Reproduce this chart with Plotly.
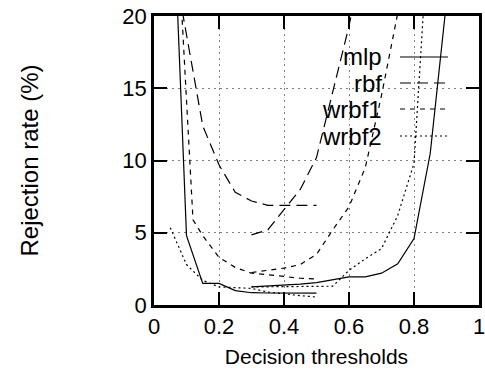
import plotly.graph_objects as go

# ---- data ----
mlp_x1 = [0.05, 0.1, 0.15, 0.2, 0.25, 0.3, 0.35, 0.4, 0.45, 0.5]
mlp_y1 = [33, 4.8, 1.5, 1.5, 1.0, 0.85, 0.83, 0.82, 0.82, 0.82]
mlp_x2 = [0.3, 0.35, 0.4, 0.45, 0.5, 0.55, 0.6, 0.65, 0.7, 0.75, 0.8, 0.85, 0.9]
mlp_y2 = [1.25, 1.3, 1.4, 1.45, 1.55, 1.75, 1.95, 1.95, 2.2, 2.85, 4.6, 10.5, 21]

rbf_x1 = [0.05, 0.1, 0.15, 0.2, 0.25, 0.3, 0.35, 0.4, 0.45, 0.5]
rbf_y1 = [25, 18.6, 12.4, 9.7, 7.8, 7.2, 6.9, 6.9, 6.9, 6.9]
rbf_x2 = [0.3, 0.35, 0.4, 0.45, 0.5, 0.55, 0.6, 0.65]
rbf_y2 = [4.85, 5.2, 6.6, 8.0, 10.2, 14.7, 19.3, 25]

wrbf1_x1 = [0.08, 0.12, 0.15, 0.2, 0.25, 0.3, 0.35, 0.4, 0.45, 0.5]
wrbf1_y1 = [22.5, 5.9, 4.8, 3.3, 2.6, 2.2, 2.1, 1.95, 1.85, 1.8]
wrbf1_x2 = [0.3, 0.35, 0.4, 0.45, 0.5, 0.55, 0.6, 0.65, 0.7, 0.75]
wrbf1_y2 = [2.25, 2.4, 2.55, 2.8, 3.5, 5.2, 6.8, 9.5, 14.5, 20.2]

wrbf2_x1 = [0.05, 0.1, 0.15, 0.2, 0.25, 0.3, 0.35, 0.4, 0.45, 0.5]
wrbf2_y1 = [5.35, 2.8, 1.7, 1.25, 1.2, 1.15, 0.9, 0.75, 0.65, 0.55]
wrbf2_x2 = [0.3, 0.35, 0.4, 0.45, 0.5, 0.55, 0.6, 0.65, 0.7, 0.75, 0.8, 0.85]
wrbf2_y2 = [1.25, 1.25, 1.25, 1.25, 1.25, 1.3, 2.4, 3.2, 3.9, 6.2, 9.8, 28]

names = ["mlp", "rbf", "wrbf1", "wrbf2"]
dashes = ["solid", "11px,6px", "5px,5px", "2px,3px"]
series = [
    (mlp_x1, mlp_y1, mlp_x2, mlp_y2),
    (rbf_x1, rbf_y1, rbf_x2, rbf_y2),
    (wrbf1_x1, wrbf1_y1, wrbf1_x2, wrbf1_y2),
    (wrbf2_x1, wrbf2_y1, wrbf2_x2, wrbf2_y2),
]

x_ticks = [0, 0.2, 0.4, 0.6, 0.8, 1]
x_ticktext = ["0", "0.2", "0.4", "0.6", "0.8", "1"]
y_ticks = [0, 5, 10, 15, 20]

FONT = "Liberation Sans, Arial, sans-serif"

fig = go.Figure()
for name, dash, (x1, y1, x2, y2) in zip(names, dashes, series):
    fig.add_trace(go.Scatter(
        x=x1 + [None] + x2, y=y1 + [None] + y2,
        mode="lines", name=name, showlegend=False,
        line=dict(color="black", width=1.2, dash=dash),
        connectgaps=False,
    ))

# gnuplot-style key: label on the left, line sample on the right
L, R, T, B = 154, 479, 16, 305
W, H = 485, 373
key_y_px = [57, 83, 109, 136]
for name, dash, ypx in zip(names, dashes, key_y_px):
    yp = (B - ypx) / (B - T)
    fig.add_annotation(
        xref="paper", yref="paper", x=(384 - L) / (R - L), y=yp,
        xanchor="right", yanchor="middle", showarrow=False,
        text=name, font=dict(family=FONT, size=24, color="black"),
    )
    fig.add_shape(
        type="line", xref="paper", yref="paper",
        x0=(400 - L) / (R - L), x1=(448 - L) / (R - L), y0=yp, y1=yp,
        line=dict(color="black", width=1.2, dash=dash),
    )

axis_common = dict(
    showline=True, linecolor="black", linewidth=2.5, mirror="allticks",
    ticks="inside", ticklen=13, tickwidth=2, tickcolor="black",
    showgrid=True, gridcolor="#808080", gridwidth=1, griddash="2px,4px",
    zeroline=False, automargin=False, ticklabeloverflow="allow",
    tickfont=dict(family=FONT, size=22, color="black"),
)

fig.update_xaxes(
    range=[0, 1], tickvals=x_ticks, ticktext=x_ticktext,
    title=dict(text="Decision thresholds", font=dict(family=FONT, size=21, color="black"), standoff=12),
    **axis_common,
)
fig.update_yaxes(
    range=[0, 20], tickvals=y_ticks,
    title=dict(text="Rejection rate (%)", font=dict(family=FONT, size=24, color="black"), standoff=77),
    **axis_common,
)

fig.update_layout(
    width=W, height=H,
    margin=dict(l=L, r=W - R, t=T, b=H - B, pad=0),
    plot_bgcolor="white", paper_bgcolor="white",
    showlegend=False,
)

fig.write_html("out.html")
